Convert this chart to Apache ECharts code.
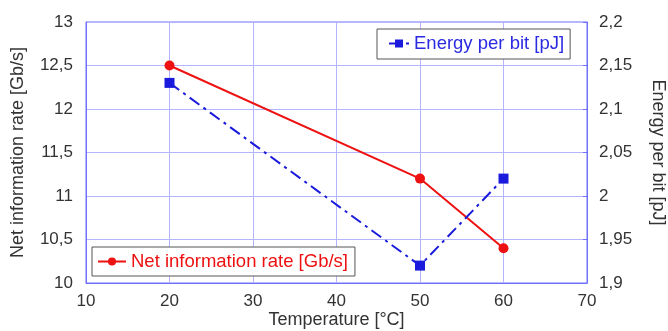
<!DOCTYPE html>
<html>
<head>
<meta charset="utf-8">
<script src="https://cdn.jsdelivr.net/npm/echarts@6/dist/echarts.min.js"></script>
<style>
html,body{margin:0;padding:0;background:#fff;}
#chart{width:668px;height:331px;}
</style>
</head>
<body>
<div id="chart"></div>
<script>
// Measured temperatures and the two quantities recorded at each one
const temperatures = [20, 50, 60];
const netRate = [12.5, 11.2, 10.4];       // Gb/s
const energyPerBit = [2.13, 1.92, 2.02];  // pJ

const rateName = 'Net information rate [Gb/s]';
const energyName = 'Energy per bit [pJ]';

const FONT = 'Liberation Sans, Arial, sans-serif';
const frameBlue = '#7070ff';
const gridBlue = '#b4b4ff';
const comma = v => String(v).replace('.', ',');
const tickFont = { fontSize: 17, color: '#333', fontFamily: FONT };
const nameFont = { fontSize: 18, color: '#333', fontFamily: FONT };

const chart = echarts.init(document.getElementById('chart'));
chart.setOption({
  animation: false,
  textStyle: { fontFamily: FONT },
  grid: {
    left: 86, right: 81, top: 22, bottom: 48,
    outerBoundsMode: 'none',
    containLabel: false,
    show: true, borderColor: frameBlue, borderWidth: 1
  },
  xAxis: {
    type: 'value', min: 10, max: 70, interval: 10,
    name: 'Temperature [°C]', nameLocation: 'middle', nameGap: 28,
    nameMoveOverlap: false,
    nameTextStyle: nameFont,
    axisLine: { lineStyle: { color: frameBlue } },
    axisTick: { show: false },
    axisLabel: Object.assign({ margin: 10 }, tickFont),
    splitLine: { lineStyle: { color: gridBlue, width: 1 } }
  },
  yAxis: [
    {
      type: 'value', min: 10, max: 13, interval: 0.5,
      name: rateName, nameLocation: 'middle', nameGap: 59,
      nameMoveOverlap: false,
      nameTextStyle: nameFont,
      axisLine: { show: true, lineStyle: { color: frameBlue } },
      axisTick: { show: false },
      axisLabel: Object.assign({ margin: 13, formatter: comma, padding: [0, 0, 5, 0] }, tickFont),
      splitLine: { lineStyle: { color: gridBlue, width: 1 } }
    },
    {
      type: 'value', min: 1.9, max: 2.2, interval: 0.05,
      position: 'right',
      name: energyName, nameLocation: 'middle', nameGap: 62, nameRotate: -90,
      nameMoveOverlap: false,
      nameTextStyle: nameFont,
      axisLine: { show: true, lineStyle: { color: frameBlue } },
      axisTick: { show: true, inside: true, length: 4, lineStyle: { color: frameBlue } },
      axisLabel: Object.assign({ margin: 12, formatter: v => comma(+v.toFixed(2)), padding: [0, 0, 5, 0] }, tickFont),
      splitLine: { show: false }
    }
  ],
  legend: [
    {
      data: [rateName],
      left: 92, top: 247,
      orient: 'horizontal',
      itemWidth: 28, itemHeight: 10,
      padding: [5, 7, 5, 5],
      borderColor: '#555', borderWidth: 1, backgroundColor: '#fff',
      textStyle: { color: '#ee1111', fontSize: 18.5, fontFamily: FONT }
    },
    {
      data: [energyName],
      left: 377, top: 29,
      orient: 'horizontal',
      itemWidth: 20, itemHeight: 10,
      padding: [5, 6, 6, 11],
      borderColor: '#555', borderWidth: 1, backgroundColor: '#fff',
      textStyle: { color: '#2a2ae0', fontSize: 18.5, fontFamily: FONT }
    }
  ],
  series: [
    {
      name: rateName, type: 'line', yAxisIndex: 0,
      data: temperatures.map((t, i) => [t, netRate[i]]),
      symbol: 'circle', symbolSize: 10,
      itemStyle: { color: '#ee1111' },
      lineStyle: { color: '#ee1111', width: 2 }
    },
    {
      name: energyName, type: 'line', yAxisIndex: 1,
      data: temperatures.map((t, i) => [t, energyPerBit[i]]),
      symbol: 'rect', symbolSize: 10,
      itemStyle: { color: '#1a1add' },
      lineStyle: { color: '#1a1add', width: 2, type: [12, 5, 3, 5] }
    }
  ]
});
</script>
</body>
</html>
